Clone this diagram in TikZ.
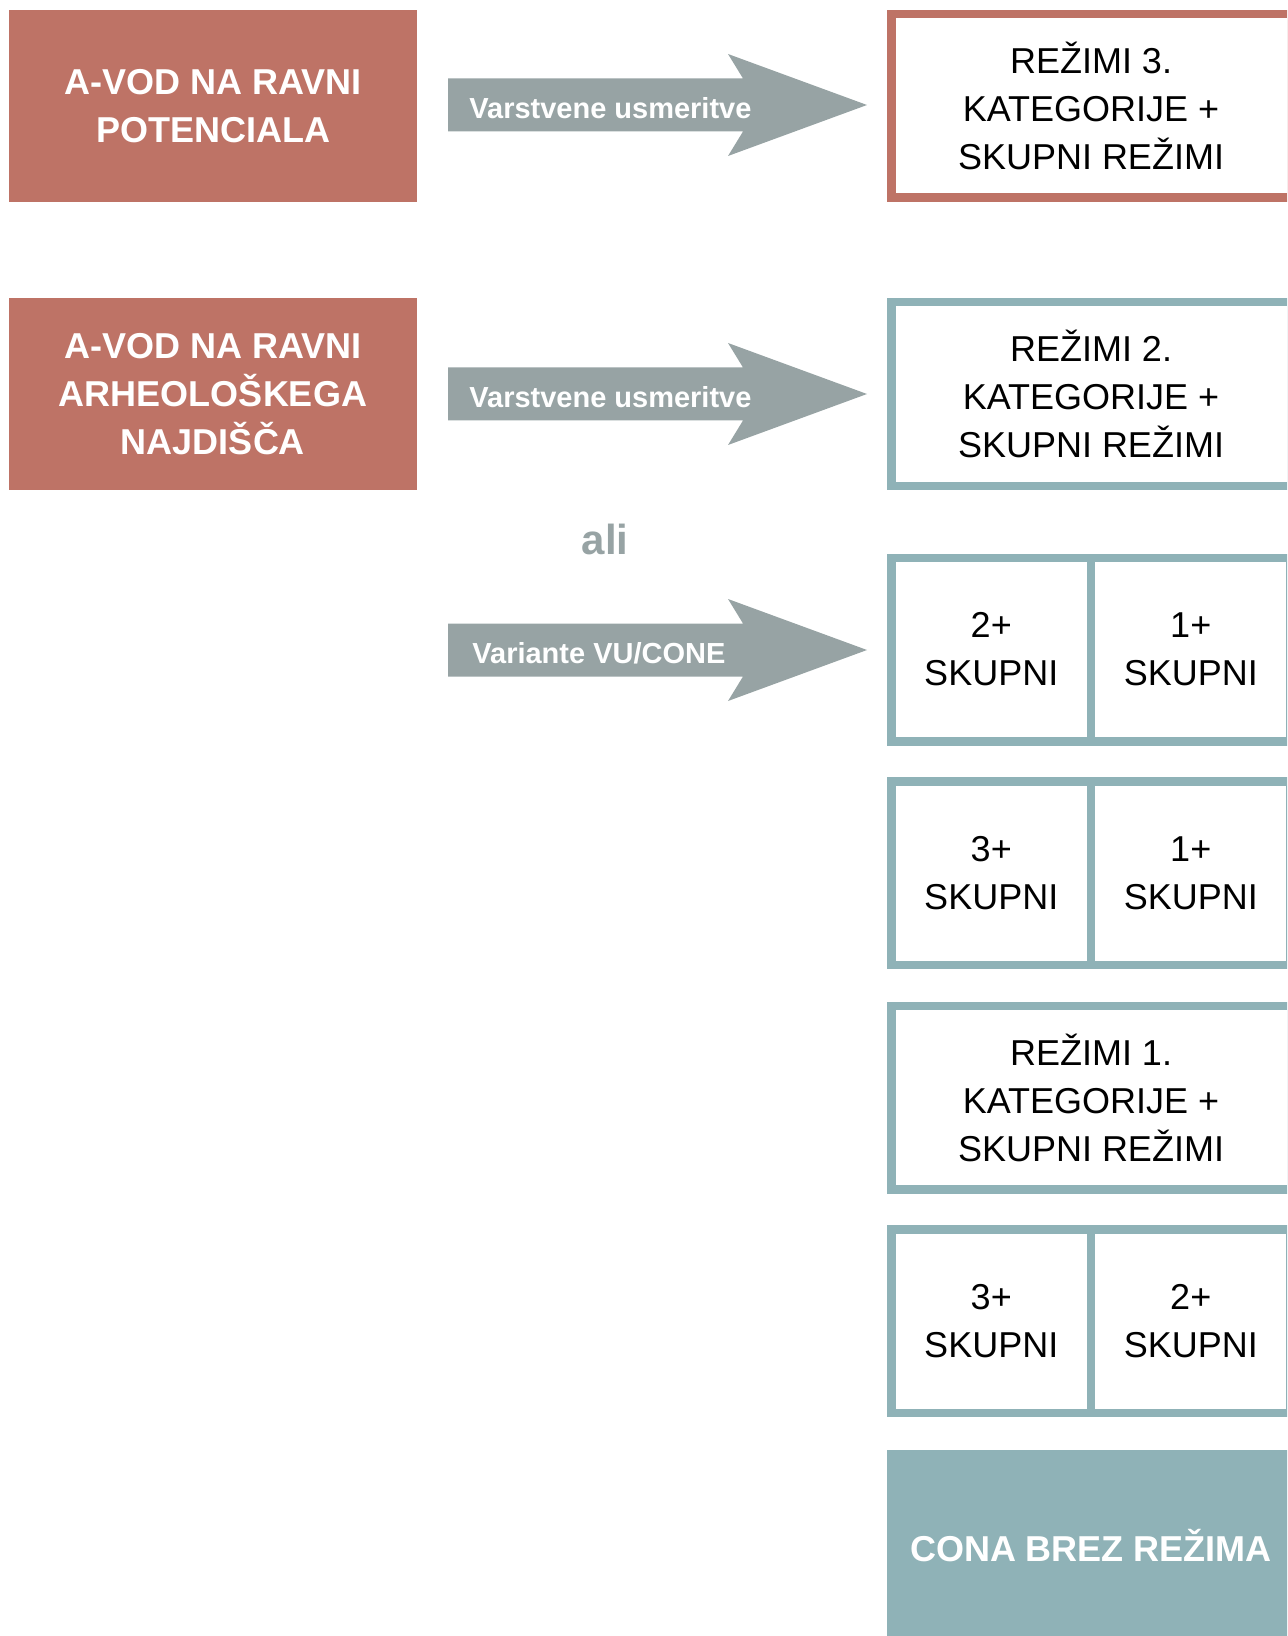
\documentclass[tikz,border=0pt]{standalone}
\usepackage{fontspec}
\setmainfont{Liberation Sans}
\usepackage{xcolor}
\usepackage{tikz}
\usetikzlibrary{positioning}
\definecolor{rust}{HTML}{BE7366}
\definecolor{sage}{HTML}{8FB2B7}
\definecolor{slate}{HTML}{97A3A4}

\begin{document}
\begin{tikzpicture}[
  x=0.5pt, y=-0.5pt,
  src/.style={fill=rust, text=white, minimum width=204pt, minimum height=96pt, align=center, font=\fontsize{18}{24}\selectfont\bfseries},
  regime/.style={draw=sage, line width=4.25pt, outer sep=0pt, inner sep=0pt, fill=white, minimum width=199.75pt, minimum height=91.75pt, align=center, font=\fontsize{18}{24}\selectfont},
  cell/.style={regime, minimum width=99.75pt, execute at begin node={\vphantom{Ž}}},
  lbl/.style={anchor=west, text=white, inner sep=0pt, text height=10.5pt, text depth=0pt, font=\fontsize{14.5}{17}\selectfont\bfseries},
]
\useasboundingbox (0,0) rectangle (1287,1636);
\clip (0,0) rectangle (1287,1636);

% arrows
\foreach \c in {105,394,650}
  \fill[slate] (448,\c-26.5) -- (743,\c-26.5) -- (728,\c-51) -- (867,\c)
    -- (728,\c+51) -- (743,\c+26.5) -- (448,\c+26.5) -- cycle;
\node[lbl] (v1) at (469,108) {Varstvene usmeritve};
\node[lbl] (v2) at (469,397) {Varstvene usmeritve};
\node[lbl] (vu) at (472,653) {Variante VU/CONE};
\node[text=slate, font=\fontsize{21}{25}\selectfont\bfseries] (ali) at (605,539) {ali};

% left
\node[src] (pot) at (213,106) {A-VOD NA RAVNI\\POTENCIALA};
\node[src] (arh) at (213,394) {A-VOD NA RAVNI\\ARHEOLOŠKEGA\\NAJDIŠČA};

% right
\node[regime, draw=rust] (r3) at (1091,106) {REŽIMI 3.\\KATEGORIJE +\\SKUPNI REŽIMI};
\node[regime] (r2) at (1091,394) {REŽIMI 2.\\KATEGORIJE +\\SKUPNI REŽIMI};
\node[cell] (c2a) at (991.25,649.5) {2+\\SKUPNI};
\node[cell, right=0pt of c2a] (c1a) {1+\\SKUPNI};
\node[cell] (c3a) at (991.25,873) {3+\\SKUPNI};
\node[cell, right=0pt of c3a] (c1b) {1+\\SKUPNI};
\node[regime] (r1) at (1091,1097.5) {REŽIMI 1.\\KATEGORIJE +\\SKUPNI REŽIMI};
\node[cell] (c3b) at (991.25,1321) {3+\\SKUPNI};
\node[cell, right=0pt of c3b] (c2b) {2+\\SKUPNI};
\node[fill=sage, text=white, minimum width=204pt, minimum height=96pt, font=\fontsize{18}{24}\selectfont\bfseries] (cona) at (1091,1546) {CONA BREZ REŽIMA};
\end{tikzpicture}
\end{document}
